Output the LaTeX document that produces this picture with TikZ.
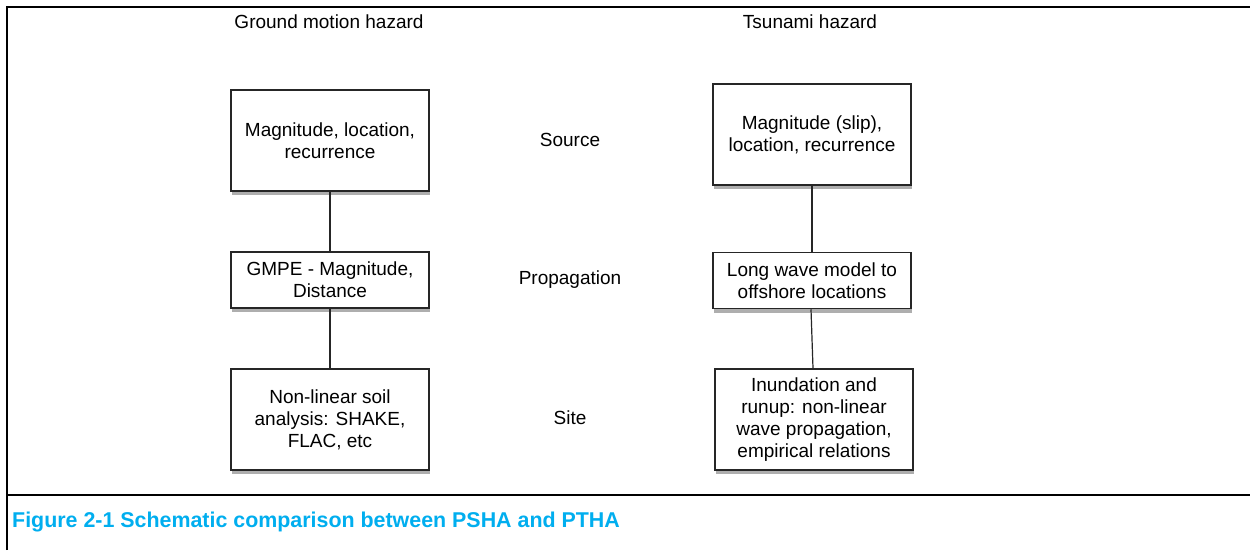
\documentclass[tikz,border=0pt]{standalone}
\usepackage{fontspec}
\setmainfont{Liberation Sans}
\usetikzlibrary{shadows}
\definecolor{capcyan}{RGB}{0,174,239}
\begin{document}
\begin{tikzpicture}[x=1pt,y=-1pt,
  box/.style={draw=black!85, line width=1.5pt, fill=white, align=center,
    inner sep=0pt, minimum width=198pt, font=\fontsize{19}{22}\selectfont,
    drop shadow={shadow xshift=1pt, shadow yshift=-4pt, opacity=0.45, fill=black!70}},
  tallbox/.style={box, minimum height=101pt},
  shortbox/.style={box, minimum height=56pt},
  lbl/.style={font=\fontsize{19}{22}\selectfont, inner sep=0pt},
  conn/.style={line width=1.2pt, draw=black!85},
  frame/.style={line width=2.5pt}]
\useasboundingbox (0,0) rectangle (1250,550);
\fill[white] (0,0) rectangle (1250,550);
% frame
\coordinate (tl) at (7,7);
\coordinate (tr) at (1250,7);
\coordinate (bl) at (7,550);
\coordinate (ml) at (7,495);
\coordinate (mr) at (1250,495);
\draw[frame] (bl) -- (tl) -- (tr);
\draw[frame] (ml) -- (mr);
% headings
\node[lbl] (h1) at (329,22) {Ground motion hazard};
\node[lbl] (h2) at (810,22) {Tsunami hazard};
\node[lbl] (l1) at (570,140) {Source};
\node[lbl] (l2) at (570,280) {Propagation};
\node[lbl] (l3) at (570,418) {Site};
% boxes
\node[tallbox] (gs) at (330,140.5) {Magnitude, location,\\recurrence};
\node[shortbox] (gp) at (330,280) {GMPE - Magnitude,\\Distance};
\node[tallbox] (gt) at (330,419.5) {Non-linear soil\\analysis: SHAKE,\\FLAC, etc};
\node[tallbox] (ts) at (812,134.5) {Magnitude (slip),\\location, recurrence};
\node[shortbox] (tp) at (812,280.5) {Long wave model to\\offshore locations};
\node[tallbox] (tt) at (814,419.5) {Inundation and\\runup: non-linear\\wave propagation,\\empirical relations};
% connectors
\draw[conn] (gs) -- (gp);
\draw[conn] (gp) -- (gt);
\draw[conn] (ts) -- (tp);
\draw[conn] ([xshift=-1pt]tp.south) -- ([xshift=-1pt]tt.north);
% caption
\node[anchor=west, inner sep=0pt, text=capcyan, font=\fontsize{21.4}{24}\selectfont\bfseries] (cap) at (12,522) {Figure 2-1 Schematic comparison between PSHA and PTHA};
\end{tikzpicture}
\end{document}
